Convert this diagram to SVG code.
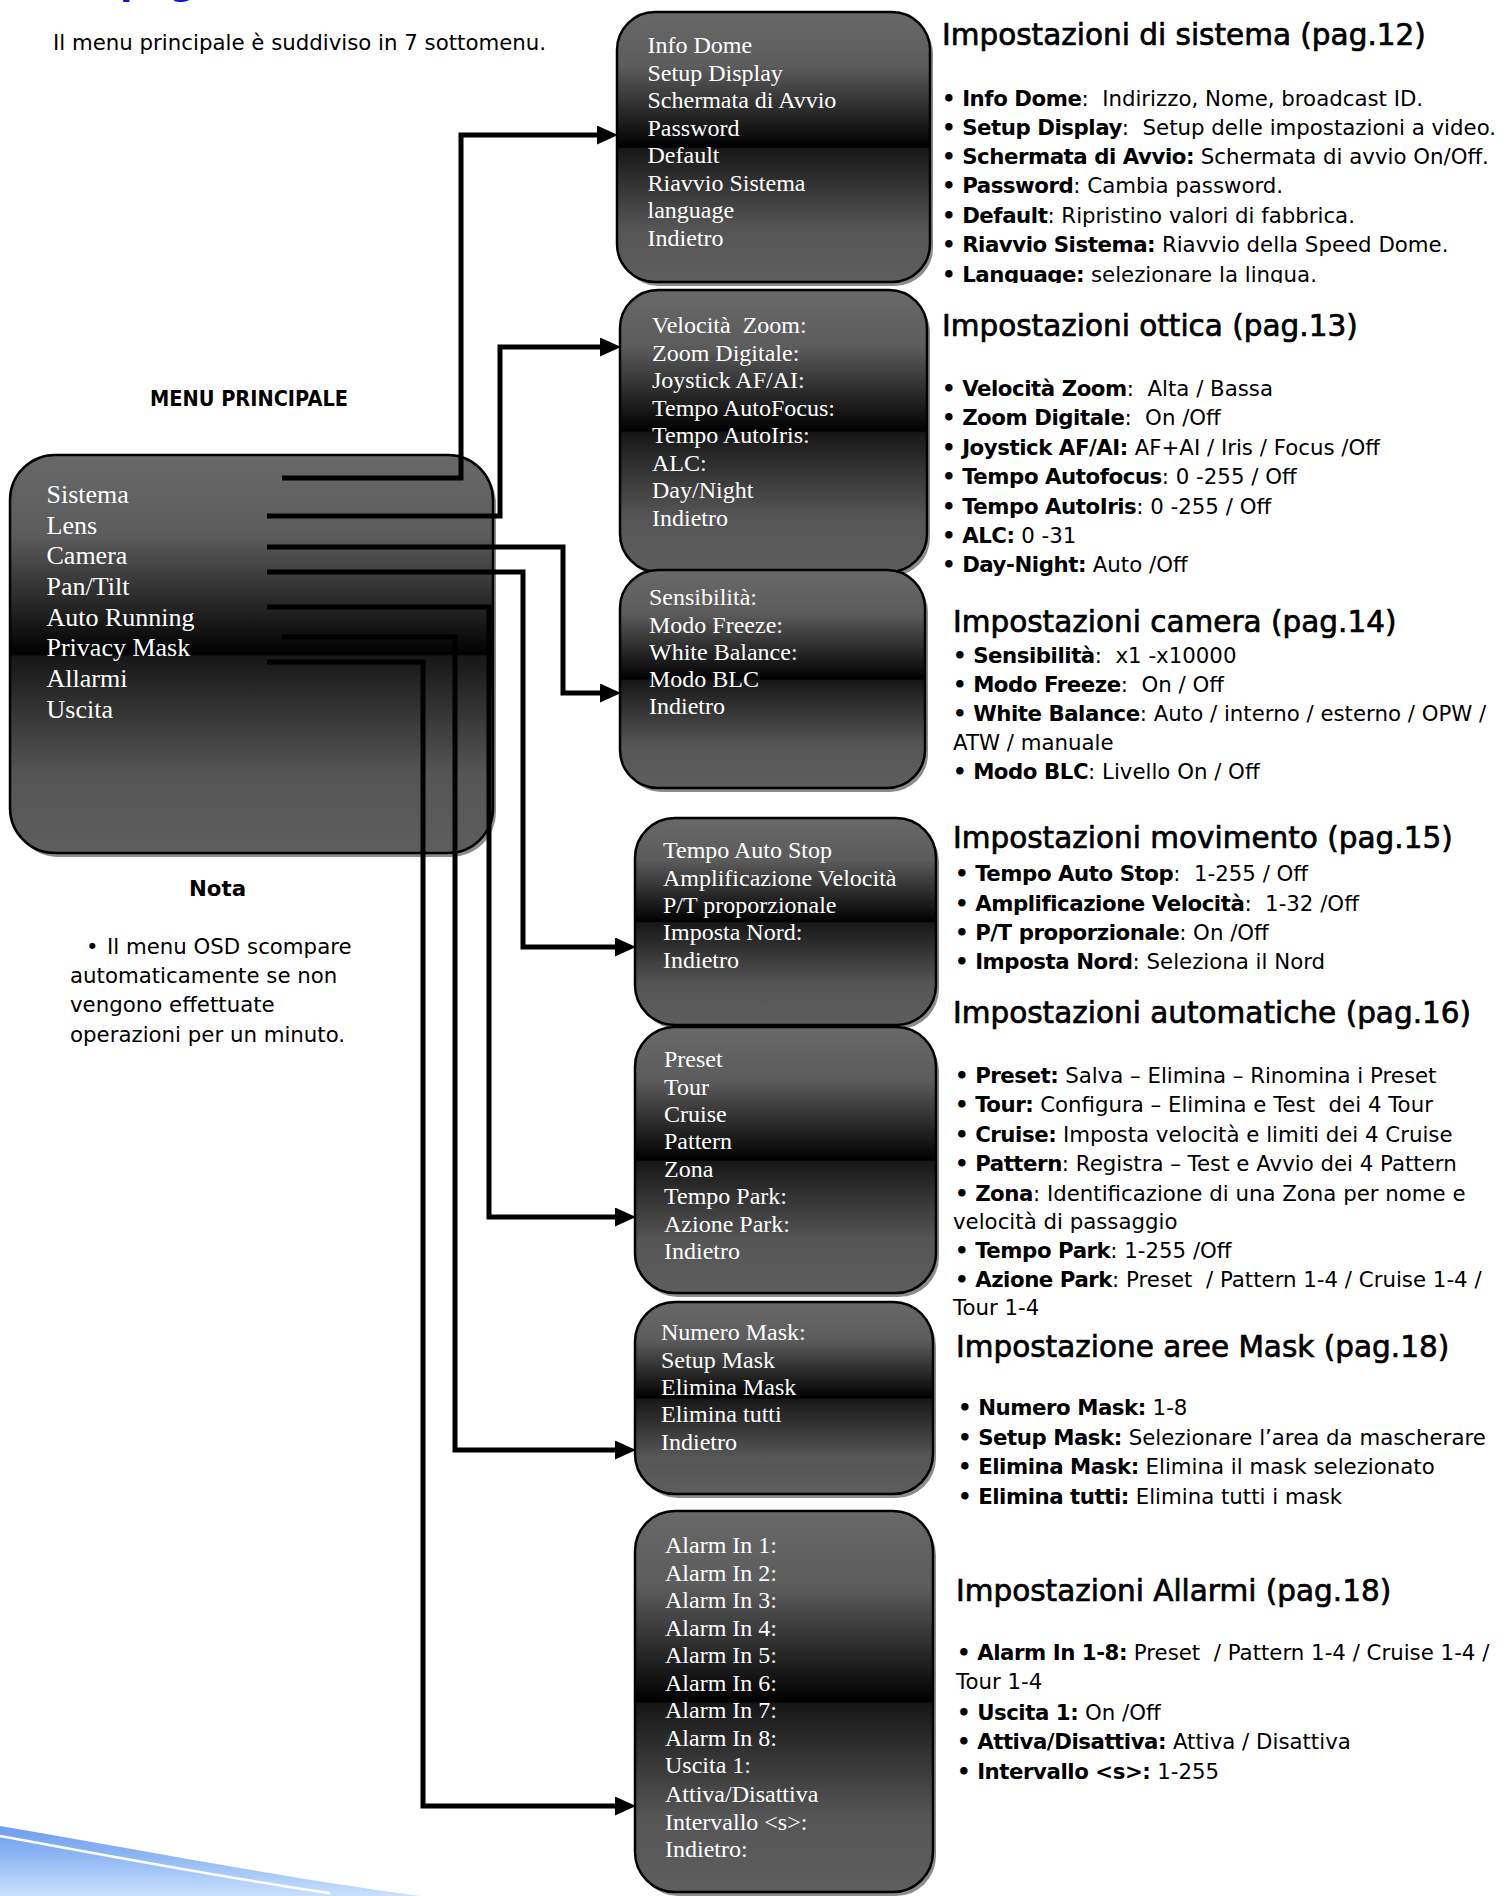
<svg xmlns="http://www.w3.org/2000/svg" width="1509" height="1896" viewBox="0 0 1509 1896" xml:space="preserve">
<style>
text{white-space:pre}
.menu{font-family:"Liberation Serif","Times New Roman",serif;fill:#fff;font-size:24px}
.mainmenu{font-size:26px}
.body{font-family:"DejaVu Sans","Liberation Sans",sans-serif;font-size:21.3px;fill:#000}
.h{font-family:"DejaVu Sans","Liberation Sans",sans-serif;font-size:29.5px;fill:#000;stroke:#000;stroke-width:0.7px}
.b{font-weight:bold}
tspan.b{letter-spacing:-0.45px}
.box{stroke:#000;stroke-width:2.5;fill:url(#g)}
.shadow{fill:#8c8c8c}
.conn{fill:none;stroke:#000;stroke-width:5;stroke-linejoin:miter;stroke-linecap:butt;marker-end:url(#arr)}
</style>
<defs>
<linearGradient id="g" x1="0" y1="0" x2="0" y2="1">
<stop offset="0" stop-color="#686868"/>
<stop offset="0.2" stop-color="#5c5c5c"/>
<stop offset="0.48" stop-color="#070707"/>
<stop offset="0.5" stop-color="#000"/>
<stop offset="0.506" stop-color="#171717"/>
<stop offset="0.8" stop-color="#555"/>
<stop offset="1" stop-color="#5e5e5e"/>
</linearGradient>
<linearGradient id="sw" x1="0" y1="0" x2="0" y2="1">
<stop offset="0" stop-color="#6d9df0"/>
<stop offset="0.4" stop-color="#8cb4f4"/>
<stop offset="1" stop-color="#c9e1fd"/>
</linearGradient>
<marker id="arr" viewBox="0 0 21 19" refX="8" refY="9.5" markerWidth="21" markerHeight="19" markerUnits="userSpaceOnUse" orient="auto">
<path d="M0,0 L21,9.5 L0,19 Z" fill="#000"/>
</marker>
<clipPath id="clip1"><rect x="900" y="0" width="609" height="283"/></clipPath>
</defs>

<rect width="1509" height="1896" fill="#fff"/>

<!-- decorations -->
<text x="120" y="-5" font-family="DejaVu Sans, sans-serif" font-weight="bold" font-size="36" fill="#0a14e0">pag</text>
<path d="M0,1826 C120,1846 260,1874 420,1896 L0,1896 Z" fill="url(#sw)"/>
<path d="M0,1836 C110,1856 230,1879 330,1893" fill="none" stroke="#fff" stroke-width="2.5"/>

<!-- left texts -->
<text class="body" x="53" y="50">Il menu principale è suddiviso in 7 sottomenu.</text>
<text class="body b" x="150" y="406" font-size="21" textLength="198" lengthAdjust="spacingAndGlyphs">MENU PRINCIPALE</text>
<text class="body b" x="189" y="896">Nota</text>
<text class="body" x="86" y="954">•</text>
<text class="body" x="107" y="954">Il menu OSD scompare</text>
<text class="body" x="70" y="983">automaticamente se non</text>
<text class="body" x="70" y="1012">vengono effettuate</text>
<text class="body" x="70" y="1042">operazioni per un minuto.</text>

<!-- main menu node -->
<g id="node-main">
<rect class="shadow" x="13" y="459" width="483" height="398" rx="45"/>
<rect class="box" x="10" y="455" width="483" height="398" rx="45"/>
<text class="menu mainmenu" x="46.5" y="503">Sistema</text>
<text class="menu mainmenu" x="46.5" y="533.5">Lens</text>
<text class="menu mainmenu" x="46.5" y="564">Camera</text>
<text class="menu mainmenu" x="46.5" y="595">Pan/Tilt</text>
<text class="menu mainmenu" x="46.5" y="625.5">Auto Running</text>
<text class="menu mainmenu" x="46.5" y="656">Privacy Mask</text>
<text class="menu mainmenu" x="46.5" y="687">Allarmi</text>
<text class="menu mainmenu" x="46.5" y="717.5">Uscita</text>
</g>

<!-- system node -->
<g id="node-sistema">
<rect class="shadow" x="620" y="16" width="313" height="270" rx="38"/>
<rect class="box" x="617" y="12" width="313" height="270" rx="38"/>
<text class="menu" x="647.5" y="53">Info Dome</text>
<text class="menu" x="647.5" y="81">Setup Display</text>
<text class="menu" x="647.5" y="108">Schermata di Avvio</text>
<text class="menu" x="647.5" y="136">Password</text>
<text class="menu" x="647.5" y="163">Default</text>
<text class="menu" x="647.5" y="191">Riavvio Sistema</text>
<text class="menu" x="647.5" y="218">language</text>
<text class="menu" x="647.5" y="246">Indietro</text>
</g>

<!-- lens node -->
<g id="node-lens">
<rect class="shadow" x="623" y="294" width="307" height="282" rx="38"/>
<rect class="box" x="620" y="290" width="307" height="282" rx="38"/>
<text class="menu" x="652" y="333">Velocità  Zoom:</text>
<text class="menu" x="652" y="361">Zoom Digitale:</text>
<text class="menu" x="652" y="388">Joystick AF/AI:</text>
<text class="menu" x="652" y="416">Tempo AutoFocus:</text>
<text class="menu" x="652" y="443">Tempo AutoIris:</text>
<text class="menu" x="652" y="471">ALC:</text>
<text class="menu" x="652" y="498">Day/Night</text>
<text class="menu" x="652" y="526">Indietro</text>
</g>

<!-- camera node -->
<g id="node-camera">
<rect class="shadow" x="623" y="574" width="305" height="218" rx="38"/>
<rect class="box" x="620" y="570" width="305" height="218" rx="38"/>
<text class="menu" x="649" y="605">Sensibilità:</text>
<text class="menu" x="649" y="633">Modo Freeze:</text>
<text class="menu" x="649" y="660">White Balance:</text>
<text class="menu" x="649" y="687">Modo BLC</text>
<text class="menu" x="649" y="714">Indietro</text>
</g>

<!-- pan/tilt node -->
<g id="node-pantilt">
<rect class="shadow" x="638" y="822" width="301" height="207" rx="40"/>
<rect class="box" x="635" y="818" width="301" height="207" rx="40"/>
<text class="menu" x="663" y="858">Tempo Auto Stop</text>
<text class="menu" x="663" y="886">Amplificazione Velocità</text>
<text class="menu" x="663" y="913">P/T proporzionale</text>
<text class="menu" x="663" y="940">Imposta Nord:</text>
<text class="menu" x="663" y="968">Indietro</text>
</g>

<!-- auto running node -->
<g id="node-auto">
<rect class="shadow" x="638" y="1031" width="301" height="266" rx="40"/>
<rect class="box" x="635" y="1027" width="301" height="266" rx="40"/>
<text class="menu" x="664" y="1067">Preset</text>
<text class="menu" x="664" y="1095">Tour</text>
<text class="menu" x="664" y="1122">Cruise</text>
<text class="menu" x="664" y="1149">Pattern</text>
<text class="menu" x="664" y="1177">Zona</text>
<text class="menu" x="664" y="1204">Tempo Park:</text>
<text class="menu" x="664" y="1232">Azione Park:</text>
<text class="menu" x="664" y="1259">Indietro</text>
</g>

<!-- privacy mask node -->
<g id="node-mask">
<rect class="shadow" x="638" y="1306" width="298" height="192" rx="40"/>
<rect class="box" x="635" y="1302" width="298" height="192" rx="40"/>
<text class="menu" x="661" y="1340">Numero Mask:</text>
<text class="menu" x="661" y="1368">Setup Mask</text>
<text class="menu" x="661" y="1395">Elimina Mask</text>
<text class="menu" x="661" y="1422">Elimina tutti</text>
<text class="menu" x="661" y="1450">Indietro</text>
</g>

<!-- alarms node -->
<g id="node-allarmi">
<rect class="shadow" x="638" y="1515" width="298" height="381" rx="40"/>
<rect class="box" x="635" y="1511" width="298" height="381" rx="40"/>
<text class="menu" x="665" y="1553">Alarm In 1:</text>
<text class="menu" x="665" y="1581">Alarm In 2:</text>
<text class="menu" x="665" y="1608">Alarm In 3:</text>
<text class="menu" x="665" y="1636">Alarm In 4:</text>
<text class="menu" x="665" y="1663">Alarm In 5:</text>
<text class="menu" x="665" y="1691">Alarm In 6:</text>
<text class="menu" x="665" y="1718">Alarm In 7:</text>
<text class="menu" x="665" y="1746">Alarm In 8:</text>
<text class="menu" x="665" y="1773">Uscita 1:</text>
<text class="menu" x="665" y="1802">Attiva/Disattiva</text>
<text class="menu" x="665" y="1830">Intervallo &lt;s&gt;:</text>
<text class="menu" x="665" y="1857">Indietro:</text>
</g>

<!-- connectors -->
<g id="connectors">
<path class="conn" d="M282,478 H461 V135 H605"/>
<path class="conn" d="M267,516 H500 V347 H608"/>
<path class="conn" d="M267,547 H563 V693 H608"/>
<path class="conn" d="M267,572 H523 V947 H623"/>
<path class="conn" d="M267,607 H489 V1217 H623"/>
<path class="conn" d="M282,637 H455 V1450 H623"/>
<path class="conn" d="M267,662 H423 V1806 H623"/>
</g>

<!-- description texts -->
<g id="desc-sistema">
<text class="h" x="942" y="45">Impostazioni di sistema (pag.12)</text>
<g clip-path="url(#clip1)">
<text class="body" x="942" y="105.5"><tspan class="b">• Info Dome</tspan>:  Indirizzo, Nome, broadcast ID.</text>
<text class="body" x="942" y="134.5"><tspan class="b">• Setup Display</tspan>:  Setup delle impostazioni a video.</text>
<text class="body" x="942" y="164"><tspan class="b">• Schermata di Avvio:</tspan> Schermata di avvio On/Off.</text>
<text class="body" x="942" y="193"><tspan class="b">• Password</tspan>: Cambia password.</text>
<text class="body" x="942" y="222.5"><tspan class="b">• Default</tspan>: Ripristino valori di fabbrica.</text>
<text class="body" x="942" y="251.5"><tspan class="b">• Riavvio Sistema:</tspan> Riavvio della Speed Dome.</text>
<text class="body" x="942" y="281.5"><tspan class="b">• Language:</tspan> selezionare la lingua.</text>
</g>
</g>

<g id="desc-ottica">
<text class="h" x="942" y="336">Impostazioni ottica (pag.13)</text>
<text class="body" x="942" y="396"><tspan class="b">• Velocità Zoom</tspan>:  Alta / Bassa</text>
<text class="body" x="942" y="425"><tspan class="b">• Zoom Digitale</tspan>:  On /Off</text>
<text class="body" x="942" y="455"><tspan class="b">• Joystick AF/AI:</tspan> AF+AI / Iris / Focus /Off</text>
<text class="body" x="942" y="484"><tspan class="b">• Tempo Autofocus</tspan>: 0 -255 / Off</text>
<text class="body" x="942" y="514"><tspan class="b">• Tempo AutoIris</tspan>: 0 -255 / Off</text>
<text class="body" x="942" y="543"><tspan class="b">• ALC:</tspan> 0 -31</text>
<text class="body" x="942" y="572"><tspan class="b">• Day-Night:</tspan> Auto /Off</text>
</g>

<g id="desc-camera">
<text class="h" x="953" y="632">Impostazioni camera (pag.14)</text>
<text class="body" x="953" y="663"><tspan class="b">• Sensibilità</tspan>:  x1 -x10000</text>
<text class="body" x="953" y="692"><tspan class="b">• Modo Freeze</tspan>:  On / Off</text>
<text class="body" x="953" y="721"><tspan class="b">• White Balance</tspan>: Auto / interno / esterno / OPW /</text>
<text class="body" x="953" y="750">ATW / manuale</text>
<text class="body" x="953" y="779"><tspan class="b">• Modo BLC</tspan>: Livello On / Off</text>
</g>

<g id="desc-movimento">
<text class="h" x="953" y="848">Impostazioni movimento (pag.15)</text>
<text class="body" x="955" y="881"><tspan class="b">• Tempo Auto Stop</tspan>:  1-255 / Off</text>
<text class="body" x="955" y="910.5"><tspan class="b">• Amplificazione Velocità</tspan>:  1-32 /Off</text>
<text class="body" x="955" y="940"><tspan class="b">• P/T proporzionale</tspan>: On /Off</text>
<text class="body" x="955" y="969"><tspan class="b">• Imposta Nord</tspan>: Seleziona il Nord</text>
</g>

<g id="desc-auto">
<text class="h" x="953" y="1023">Impostazioni automatiche (pag.16)</text>
<text class="body" x="955" y="1082.5"><tspan class="b">• Preset:</tspan> Salva – Elimina – Rinomina i Preset</text>
<text class="body" x="955" y="1111.5"><tspan class="b">• Tour:</tspan> Configura – Elimina e Test  dei 4 Tour</text>
<text class="body" x="955" y="1141.5"><tspan class="b">• Cruise:</tspan> Imposta velocità e limiti dei 4 Cruise</text>
<text class="body" x="955" y="1171"><tspan class="b">• Pattern</tspan>: Registra – Test e Avvio dei 4 Pattern</text>
<text class="body" x="955" y="1200.5"><tspan class="b">• Zona</tspan>: Identificazione di una Zona per nome e</text>
<text class="body" x="953" y="1229">velocità di passaggio</text>
<text class="body" x="955" y="1258"><tspan class="b">• Tempo Park</tspan>: 1-255 /Off</text>
<text class="body" x="955" y="1287"><tspan class="b">• Azione Park</tspan>: Preset  / Pattern 1-4 / Cruise 1-4 /</text>
<text class="body" x="953" y="1315">Tour 1-4</text>
</g>

<g id="desc-mask">
<text class="h" x="956" y="1357">Impostazione aree Mask (pag.18)</text>
<text class="body" x="958" y="1415"><tspan class="b">• Numero Mask:</tspan> 1-8</text>
<text class="body" x="958" y="1445"><tspan class="b">• Setup Mask:</tspan> Selezionare l’area da mascherare</text>
<text class="body" x="958" y="1474"><tspan class="b">• Elimina Mask:</tspan> Elimina il mask selezionato</text>
<text class="body" x="958" y="1504"><tspan class="b">• Elimina tutti:</tspan> Elimina tutti i mask</text>
</g>

<g id="desc-allarmi">
<text class="h" x="956" y="1601">Impostazioni Allarmi (pag.18)</text>
<text class="body" x="957" y="1660"><tspan class="b">• Alarm In 1-8:</tspan> Preset  / Pattern 1-4 / Cruise 1-4 /</text>
<text class="body" x="956" y="1689">Tour 1-4</text>
<text class="body" x="957" y="1719.5"><tspan class="b">• Uscita 1:</tspan> On /Off</text>
<text class="body" x="957" y="1748.5"><tspan class="b">• Attiva/Disattiva:</tspan> Attiva / Disattiva</text>
<text class="body" x="957" y="1779"><tspan class="b">• Intervallo &lt;s&gt;:</tspan> 1-255</text>
</g>
</svg>
